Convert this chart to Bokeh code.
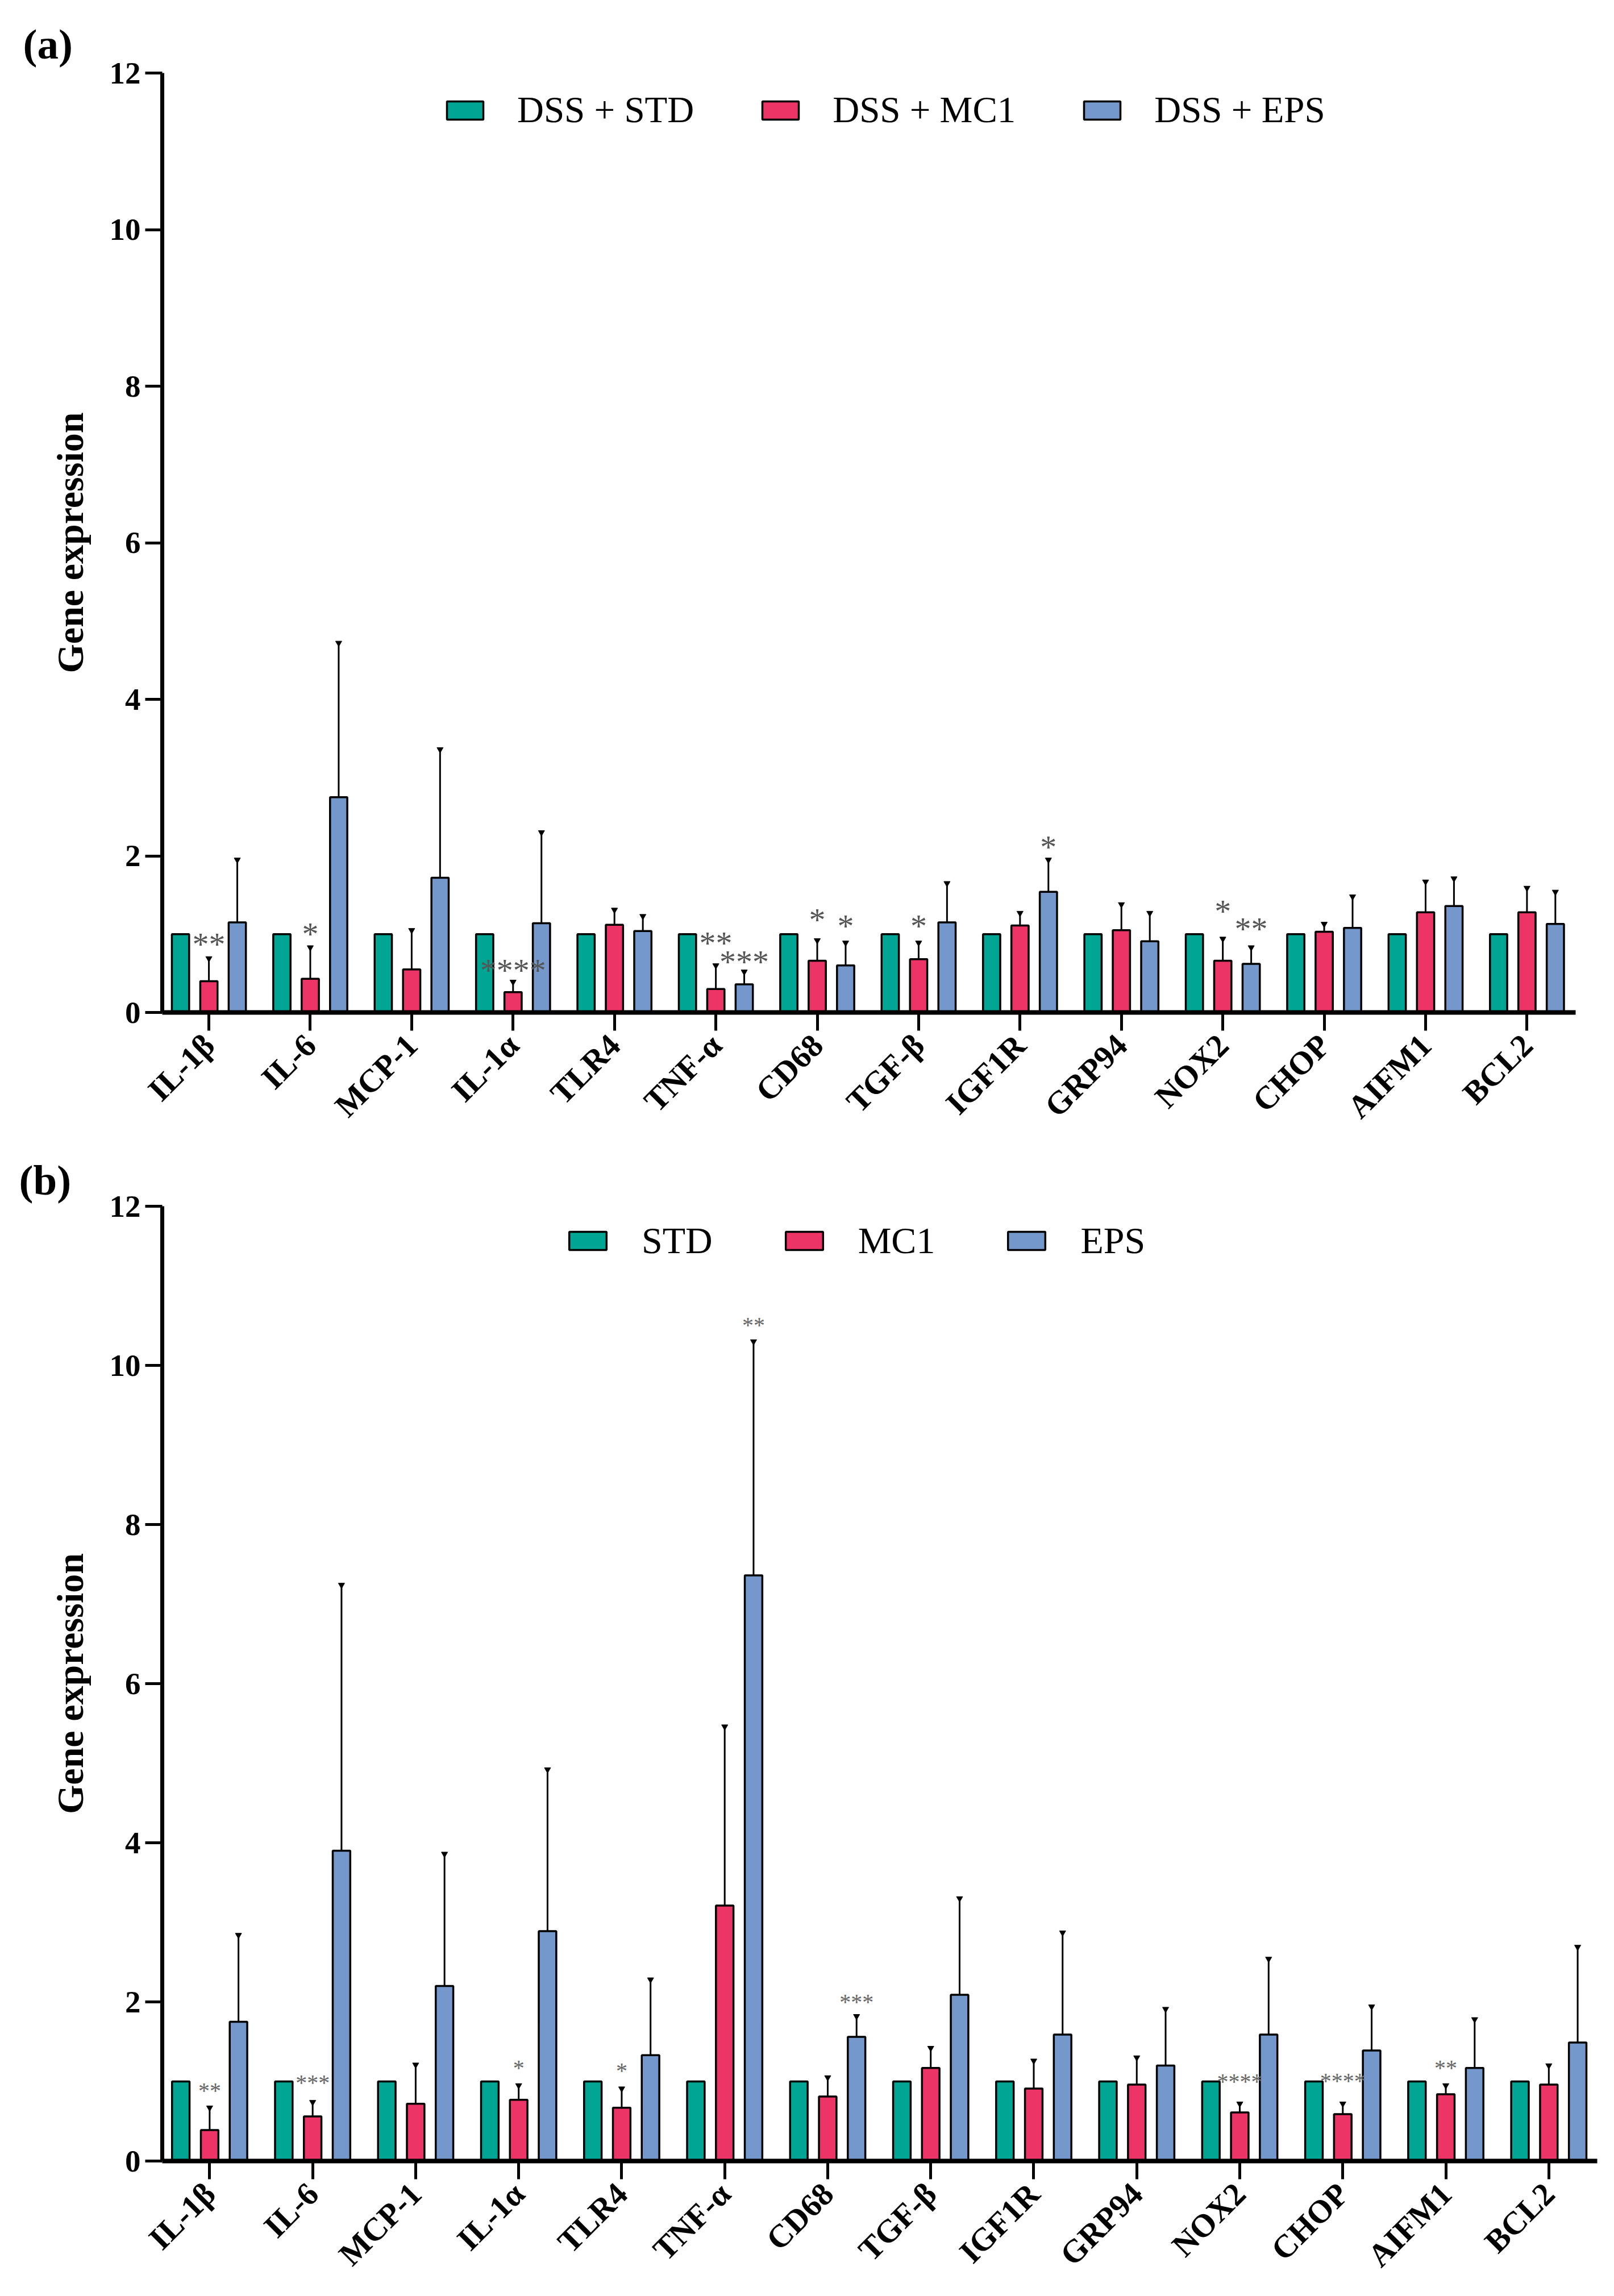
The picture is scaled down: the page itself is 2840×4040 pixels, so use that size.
import math
from bokeh.plotting import figure
from bokeh.layouts import column
from bokeh.models import Range1d, FixedTicker, Legend, LegendItem, ColumnDataSource
from bokeh.core.properties import value
from bokeh.embed import file_html
from bokeh.resources import INLINE

# ---------------- data ----------------
genes = ["IL-1β", "IL-6", "MCP-1", "IL-1α", "TLR4", "TNF-α", "CD68",
         "TGF-β", "IGF1R", "GRP94", "NOX2", "CHOP", "AIFM1", "BCL2"]
y_ticks = [0, 2, 4, 6, 8, 10, 12]

# panel (a)
a_series = ["DSS + STD", "DSS + MC1", "DSS + EPS"]
a_std = [1.0, 1.0, 1.0, 1.0, 1.0, 1.0, 1.0, 1.0, 1.0, 1.0, 1.0, 1.0, 1.0, 1.0]
a_mc1 = [0.40, 0.43, 0.55, 0.26, 1.12, 0.30, 0.66, 0.68, 1.11, 1.05, 0.66, 1.03, 1.28, 1.28]
a_mc1_sd = [0.29, 0.40, 0.50, 0.13, 0.19, 0.30, 0.26, 0.21, 0.16, 0.33, 0.28, 0.10, 0.39, 0.31]
a_eps = [1.15, 2.75, 1.72, 1.14, 1.04, 0.36, 0.60, 1.15, 1.54, 0.91, 0.62, 1.08, 1.36, 1.13]
a_eps_sd = [0.80, 1.97, 1.64, 1.16, 0.19, 0.16, 0.29, 0.50, 0.41, 0.36, 0.21, 0.40, 0.35, 0.41]
a_star_gene = [0, 1, 3, 5, 5, 6, 6, 7, 8, 10, 10]
a_star_series = ["MC1", "MC1", "MC1", "MC1", "EPS", "MC1", "EPS", "MC1", "EPS", "MC1", "EPS"]
a_star_y = [0.99, 1.12, 0.65, 1.00, 0.76, 1.30, 1.22, 1.22, 2.23, 1.41, 1.18]
a_star_text = ["**", "*", "****", "**", "***", "*", "*", "*", "*", "*", "**"]

# panel (b)
b_series = ["STD", "MC1", "EPS"]
b_std = [1.0, 1.0, 1.0, 1.0, 1.0, 1.0, 1.0, 1.0, 1.0, 1.0, 1.0, 1.0, 1.0, 1.0]
b_mc1 = [0.39, 0.56, 0.72, 0.77, 0.67, 3.21, 0.81, 1.17, 0.91, 0.96, 0.61, 0.59, 0.84, 0.96]
b_mc1_sd = [0.28, 0.18, 0.49, 0.18, 0.24, 2.25, 0.24, 0.25, 0.35, 0.34, 0.11, 0.13, 0.11, 0.24]
b_eps = [1.75, 3.90, 2.20, 2.89, 1.33, 7.36, 1.56, 2.09, 1.59, 1.20, 1.59, 1.39, 1.17, 1.49]
b_eps_sd = [1.09, 3.34, 1.66, 2.03, 0.95, 2.94, 0.26, 1.21, 1.28, 0.71, 0.95, 0.55, 0.61, 1.20]
b_star_gene = [0, 1, 3, 4, 5, 6, 10, 11, 12]
b_star_series = ["MC1", "MC1", "MC1", "MC1", "EPS", "EPS", "MC1", "MC1", "MC1"]
b_star_y = [0.96, 1.06, 1.24, 1.21, 10.58, 2.07, 1.07, 1.08, 1.24]
b_star_text = ["**", "***", "*", "*", "**", "***", "****", "****", "**"]

# ---------------- style ----------------
GREEN = "#00A693"
RED = "#EC3466"
BLUE = "#7598CC"
SERIF = "Liberation Serif"
OFFS = {"STD": -0.28, "MC1": 0.0, "EPS": 0.28}
BAR_W = 0.17


def make_panel(tag, series, std, mc1, mc1_sd, eps, eps_sd,
               s_gene, s_series, s_y, s_text,
               left, frame_w, right, top, frame_h, bottom, xr, title_standoff,
               leg_loc, leg_glyph, leg_standoff, leg_spacing, leg_font,
               star_size, star_color, star_offset):
    p = figure(frame_width=frame_w, frame_height=frame_h,
               min_border_left=left, min_border_right=right,
               min_border_top=top, min_border_bottom=bottom,
               x_range=Range1d(*xr), y_range=Range1d(0, 12),
               output_backend="svg", toolbar_location=None,
               background_fill_color="white", border_fill_color="white")
    p.outline_line_color = None
    p.xgrid.visible = False
    p.ygrid.visible = False

    # panel tag as title, shifted to the far left
    p.title.text = tag
    p.title.align = "left"
    p.title.offset = -(left - 33)
    p.title.text_font = SERIF
    p.title.text_font_style = "bold"
    p.title.text_font_size = "75px"
    p.title.text_color = "black"
    p.title.standoff = title_standoff

    n = len(genes)
    xs = list(range(n))
    vals = [std, mc1, eps]
    sds = [None, mc1_sd, eps_sd]
    cols = [GREEN, RED, BLUE]
    keys = ["STD", "MC1", "EPS"]
    rends = []
    for v, sd, c, k in zip(vals, sds, cols, keys):
        x = [i + OFFS[k] for i in xs]
        if sd is not None:
            top_e = [a + b for a, b in zip(v, sd)]
            p.segment(x0=x, y0=v, x1=x, y1=top_e, line_color="black", line_width=3)
            p.scatter(x=x, y=top_e, marker="inverted_triangle", size=11,
                      fill_color="black", line_color="black", line_width=1)
        r = p.vbar(x=x, width=BAR_W, top=v, bottom=0, fill_color=c,
                   line_color="black", line_width=3.5)
        rends.append(r)

    # significance asterisks
    sx = [g + OFFS[s] for g, s in zip(s_gene, s_series)]
    src = ColumnDataSource(dict(x=sx, y=s_y, t=s_text))
    p.text(x="x", y="y", text="t", source=src, text_font=value(SERIF),
           text_font_size=star_size, text_color=star_color,
           text_align="center", text_baseline="middle", y_offset=star_offset)

    # axes
    xa = p.xaxis[0]
    xa.ticker = FixedTicker(ticks=xs)
    xa.major_label_overrides = {i: g for i, g in enumerate(genes)}
    xa.major_label_orientation = math.pi / 4
    xa.major_label_text_font = SERIF
    xa.major_label_text_font_style = "bold"
    xa.major_label_text_font_size = "57px"
    xa.major_label_text_color = "black"
    xa.major_label_standoff = 16
    xa.axis_line_width = 8
    xa.axis_line_color = "black"
    xa.major_tick_line_width = 5
    xa.major_tick_out = 32
    xa.major_tick_in = 0
    xa.minor_tick_line_color = None

    ya = p.yaxis[0]
    ya.ticker = FixedTicker(ticks=y_ticks)
    ya.major_label_text_font = SERIF
    ya.major_label_text_font_style = "bold"
    ya.major_label_text_font_size = "55px"
    ya.major_label_text_color = "black"
    ya.major_label_standoff = 8
    ya.axis_line_width = 7
    ya.axis_line_color = "black"
    ya.major_tick_line_width = 5
    ya.major_tick_out = 30
    ya.major_tick_in = 0
    ya.minor_tick_line_color = None
    ya.axis_label = "Gene expression"
    ya.axis_label_text_font = SERIF
    ya.axis_label_text_font_style = "bold"
    ya.axis_label_text_font_size = "66px"
    ya.axis_label_text_color = "black"
    ya.axis_label_standoff = 30

    leg = Legend(items=[LegendItem(label=s, renderers=[r]) for s, r in zip(series, rends)],
                 orientation="horizontal", location=leg_loc,
                 glyph_width=leg_glyph[0], glyph_height=leg_glyph[1],
                 label_standoff=leg_standoff, spacing=leg_spacing,
                 padding=0, margin=0, border_line_color=None,
                 background_fill_alpha=0,
                 label_text_font=SERIF, label_text_font_size=leg_font,
                 label_text_color="black")
    p.add_layout(leg)
    return p


pa = make_panel("(a)", a_series, a_std, a_mc1, a_mc1_sd, a_eps, a_eps_sd,
                a_star_gene, a_star_series, a_star_y, a_star_text,
                left=278, frame_w=2487, right=75, top=128, frame_h=1653, bottom=239,
                xr=(-0.46, 13.48), title_standoff=20,
                leg_loc=(493, 1550), leg_glyph=(80, 40), leg_standoff=52,
                leg_spacing=112, leg_font="65px",
                star_size="58px", star_color="#555555", star_offset=16)

pb = make_panel("(b)", b_series, b_std, b_mc1, b_mc1_sd, b_eps, b_eps_sd,
                b_star_gene, b_star_series, b_star_y, b_star_text,
                left=285, frame_w=2525, right=30, top=102, frame_h=1680, bottom=238,
                xr=(-0.46, 13.47), title_standoff=10,
                leg_loc=(708, 1581), leg_glyph=(82, 40), leg_standoff=54,
                leg_spacing=120, leg_font="66px",
                star_size="40px", star_color="#666666", star_offset=10)

layout = column(pa, pb, spacing=0)
open("out.html", "w").write(file_html(layout, INLINE))
